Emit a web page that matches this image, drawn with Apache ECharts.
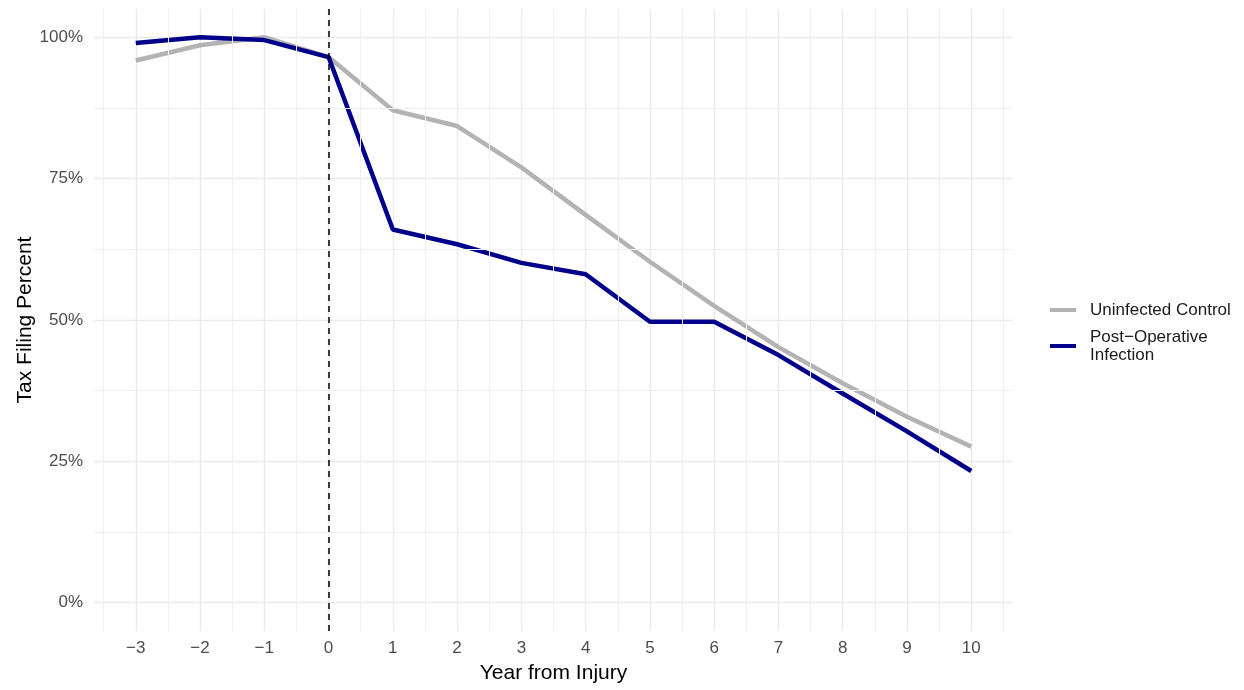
<!DOCTYPE html>
<html>
<head>
<meta charset="utf-8">
<script src="https://cdn.jsdelivr.net/npm/echarts@6/dist/echarts.min.js"></script>
<style>
  html, body { margin: 0; padding: 0; background: #fff; }
  #main { width: 1244px; height: 690px; }
</style>
</head>
<body>
<div id="main"></div>
<script>
// years relative to injury
const years = [-3, -2, -1, 0, 1, 2, 3, 4, 5, 6, 7, 8, 9, 10]
// tax filing percent per group
const uninfected = [95.9, 98.6, 100, 96.5, 87.1, 84.3, 77.0, 68.6, 60.3, 52.5, 45.2, 38.8, 32.9, 27.6]
const infection = [99.0, 100, 99.5, 96.5, 66.0, 63.4, 60.1, 58.1, 49.7, 49.7, 43.8, 37.0, 30.3, 23.3]

// axis ticks
const xMajor = [-3, -2, -1, 0, 1, 2, 3, 4, 5, 6, 7, 8, 9, 10]
const xMinor = [-3.5, -2.5, -1.5, -0.5, 0.5, 1.5, 2.5, 3.5, 4.5, 5.5, 6.5, 7.5, 8.5, 9.5, 10.5]
const yMajor = [0, 25, 50, 75, 100]
const yMinor = [12.5, 37.5, 62.5, 87.5]
const injuryYear = 0

const FONT = 'Liberation Sans, Arial, sans-serif'
const minus = v => (v < 0 ? '\u2212' + Math.abs(v) : String(v))

const chart = echarts.init(document.getElementById('main'), null, { renderer: 'canvas' })

const minorLines = [
  ...xMinor.map(v => ({ xAxis: v })),
  ...yMinor.map(v => ({ yAxis: v }))
]

chart.setOption({
  animation: false,
  backgroundColor: '#ffffff',
  grid: { left: 94, right: 231, top: 9, bottom: 59, outerBoundsMode: 'none' },
  legend: {
    orient: 'vertical',
    left: 1050,
    top: 301,
    padding: 0,
    itemWidth: 26,
    itemHeight: 4,
    itemGap: 9,
    icon: 'rect',
    data: ['Uninfected Control', 'Post\u2212Operative\nInfection'],
    textStyle: { fontFamily: FONT, fontSize: 17, color: '#1a1a1a', lineHeight: 18, padding: [0, 0, 0, 9] }
  },
  xAxis: {
    type: 'value',
    min: -3.65,
    max: 10.65,
    name: 'Year from Injury',
    nameLocation: 'middle',
    nameGap: 32,
    nameTextStyle: { fontFamily: FONT, fontSize: 21, color: '#000' },
    axisLine: { show: false },
    axisTick: { show: false, customValues: xMajor },
    axisLabel: {
      customValues: xMajor,
      margin: 9,
      fontFamily: FONT,
      fontSize: 17,
      color: '#4d4d4d',
      formatter: minus
    },
    splitLine: {
      show: true,
      lineStyle: { color: '#ebebeb', width: 1.4 }
    }
  },
  yAxis: {
    type: 'value',
    min: -5,
    max: 105,
    name: 'Tax Filing Percent',
    nameLocation: 'middle',
    nameGap: 58,
    nameMoveOverlap: false,
    nameTextStyle: { fontFamily: FONT, fontSize: 21, color: '#000' },
    axisLine: { show: false },
    axisTick: { show: false, customValues: yMajor },
    axisLabel: {
      customValues: yMajor,
      margin: 11,
      fontFamily: FONT,
      fontSize: 17,
      color: '#4d4d4d',
      formatter: v => v + '%'
    },
    splitLine: {
      show: true,
      lineStyle: { color: '#ebebeb', width: 1.4 }
    }
  },
  series: [
    {
      name: 'minor-grid',
      type: 'line',
      data: [],
      silent: true,
      z: 0,
      markLine: {
        silent: true,
        symbol: 'none',
        label: { show: false },
        lineStyle: { color: '#efefef', width: 1, type: 'solid' },
        data: minorLines
      }
    },
    {
      name: 'injury-line',
      type: 'line',
      data: [],
      silent: true,
      z: 1,
      markLine: {
        silent: true,
        symbol: 'none',
        label: { show: false },
        lineStyle: { color: '#000', width: 1.5, type: [6, 5] },
        data: [{ xAxis: injuryYear }]
      }
    },
    {
      name: 'Uninfected Control',
      type: 'line',
      data: years.map((y, i) => [y, uninfected[i]]),
      showSymbol: false,
      z: 2,
      color: '#b3b3b3',
      lineStyle: { color: '#b3b3b3', width: 4.5 }
    },
    {
      name: 'Post\u2212Operative\nInfection',
      type: 'line',
      data: years.map((y, i) => [y, infection[i]]),
      showSymbol: false,
      z: 3,
      color: '#00008b',
      lineStyle: { color: '#00008b', width: 4.5 }
    }
  ]
})
</script>
</body>
</html>
